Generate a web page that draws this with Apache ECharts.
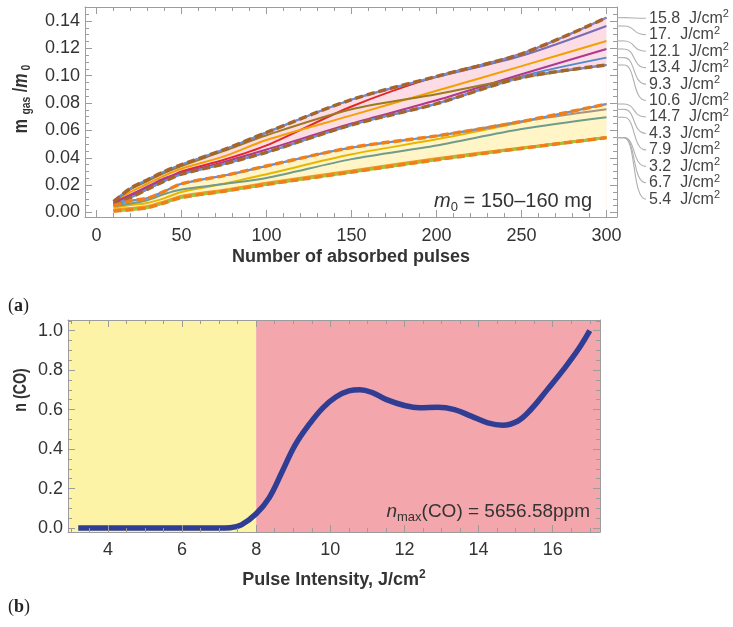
<!DOCTYPE html>
<html>
<head>
<meta charset="utf-8">
<script src="https://cdn.jsdelivr.net/npm/echarts@6/dist/echarts.min.js"></script>
<style>
  html, body { margin: 0; padding: 0; background: #ffffff; }
  #c { width: 733px; height: 627px; }
</style>
</head>
<body>
<div id="c"></div>
<script>
// ---- (a) gas mass fraction vs. number of absorbed pulses ----
const pulses = [10, 20, 30, 40, 50, 75, 100, 150, 200, 250, 300];

// high-yield family (pink band)
const f15_8 = [0.0070, 0.0120, 0.0180, 0.0240, 0.0300, 0.0385, 0.0490, 0.0775, 0.0995, 0.1160, 0.1424];
const f17   = [0.0080, 0.0177, 0.0240, 0.0300, 0.0350, 0.0460, 0.0585, 0.0825, 0.0990, 0.1145, 0.1363];
const f12_1 = [0.0075, 0.0150, 0.0210, 0.0270, 0.0320, 0.0410, 0.0530, 0.0710, 0.0890, 0.1070, 0.1254];
const f13_4 = [0.0070, 0.0130, 0.0190, 0.0250, 0.0290, 0.0370, 0.0460, 0.0650, 0.0820, 0.1010, 0.1195];
const f9_3  = [0.0055, 0.0110, 0.0170, 0.0230, 0.0280, 0.0355, 0.0440, 0.0640, 0.0795, 0.0995, 0.1132];
const f10_6 = [0.0078, 0.0170, 0.0230, 0.0290, 0.0340, 0.0450, 0.0565, 0.0755, 0.0865, 0.0985, 0.1078];

// low-yield family (yellow band)
const f14_7 = [0.0035, 0.0055, 0.0070, 0.0105, 0.0150, 0.0210, 0.0280, 0.0425, 0.0535, 0.0660, 0.0793];
const f4_3  = [0.0050, 0.0085, 0.0105, 0.0155, 0.0210, 0.0270, 0.0340, 0.0475, 0.0560, 0.0665, 0.0754];
const f7_9  = [0.0045, 0.0065, 0.0090, 0.0135, 0.0168, 0.0208, 0.0252, 0.0390, 0.0490, 0.0610, 0.0696];
const f3_2  = [0.0015, 0.0025, 0.0040, 0.0075, 0.0115, 0.0160, 0.0210, 0.0300, 0.0390, 0.0470, 0.0547];
const f6_7  = [0.0020, 0.0030, 0.0045, 0.0080, 0.0120, 0.0165, 0.0215, 0.0305, 0.0395, 0.0472, 0.0547];
const f5_4  = [0.0010, 0.0020, 0.0035, 0.0070, 0.0110, 0.0155, 0.0205, 0.0295, 0.0385, 0.0468, 0.0547];

const upperLabels = ['15.8', '17.', '12.1', '13.4', '9.3', '10.6'];
const lowerLabels = ['14.7', '4.3', '7.9', '3.2', '6.7', '5.4'];
const upperSeries = [f15_8, f17, f12_1, f13_4, f9_3, f10_6];
const lowerSeries = [f14_7, f4_3, f7_9, f3_2, f6_7, f5_4];
const massRange = '150\u2013160 mg';

// ---- (b) CO yield vs. pulse intensity ----
const intensity = [3.2, 4, 5, 6, 7, 7.3, 7.6, 8.0, 8.35, 8.7, 9.05, 9.45, 9.8, 10.15, 10.5, 10.8, 11.15, 11.5, 12.0, 12.4, 12.9, 13.35, 13.8, 14.25, 14.65, 15.05, 15.4, 15.85, 16.3, 16.7, 17];
const nCO       = [0, 0, 0, 0, 0, 0.002, 0.016, 0.072, 0.153, 0.285, 0.42, 0.53, 0.609, 0.664, 0.695, 0.701, 0.685, 0.652, 0.621, 0.609, 0.612, 0.600, 0.567, 0.533, 0.521, 0.541, 0.598, 0.70, 0.805, 0.908, 1.0];
const regimeBoundary = 8;
const nMaxText = '5656.58ppm';

// ---- styling ----
const FONT = '"Liberation Sans", Arial, sans-serif';
const FRAME = '#9c9c9c';
const TXT = '#333333';
const upperColors = ['#e4262c', '#7b6cb6', '#f2a100', '#b0388f', '#4f8bc9', '#9c7a20'];
const lowerColors = ['#e8b600', '#a89480', '#6f9c8b', '#f07e14', '#f39a22', '#9cc23a'];

const X_A = [-6.8, 306.2], Y_A = [-0.0033, 0.1502];
const X_B = [2.924, 17.276], Y_B = [-0.02, 1.054];

const xy = (xs, ys) => xs.map((x, i) => [x, ys[i]]);
const colMax = (arrs) => arrs[0].map((_, i) => Math.max(...arrs.map(a => a[i])));
const colMin = (arrs) => arrs[0].map((_, i) => Math.min(...arrs.map(a => a[i])));

function axisSet(kind, grid, ext, major, minor, labelFmt, margin) {
  const sides = kind === 'x' ? ['bottom', 'top'] : ['left', 'right'];
  const out = [];
  sides.forEach((side, k) => {
    [major, minor].forEach((step, m) => {
      out.push({
        type: 'value', gridIndex: grid, position: side,
        min: ext[0], max: ext[1], minInterval: step, maxInterval: step,
        axisLine: { show: m === 0, onZero: false, lineStyle: { color: FRAME, width: 1 } },
        axisTick: { show: true, inside: true, length: m === 0 ? 7 : 4, lineStyle: { color: FRAME, width: 1 } },
        axisLabel: (k === 0 && m === 0) ? {
          show: true, showMinLabel: false, showMaxLabel: false, margin: margin,
          fontSize: 18, fontFamily: FONT, color: TXT, formatter: labelFmt
        } : { show: false },
        splitLine: { show: false }, minorTick: { show: false },
        z: 10
      });
    });
  });
  return out;
}

const series = [];
const A = { xAxisIndex: 0, yAxisIndex: 0 };
const smoothA = 0.3;

function area(ys, color) {
  series.push(Object.assign({
    type: 'line', data: xy(pulses, ys), smooth: smoothA, symbol: 'none', silent: true,
    lineStyle: { width: 0 }, areaStyle: { color: color, opacity: 1, origin: 'start' }, z: 1
  }, A));
}
const upperMax = colMax(upperSeries), upperMin = colMin(upperSeries);
const lowerMax = colMax(lowerSeries), lowerMin = colMin(lowerSeries);
area(upperMax, '#fcdde6');
area(upperMin, '#ffffff');
area(lowerMax, '#fff5c7');
area(lowerMin, '#ffffff');

function curve(ys, color, width) {
  series.push(Object.assign({
    type: 'line', data: xy(pulses, ys), smooth: smoothA, symbol: 'none', silent: true,
    lineStyle: { color: color, width: width }, z: 3
  }, A));
}
upperSeries.forEach((s, i) => curve(s, upperColors[i], 2));
lowerSeries.forEach((s, i) => curve(s, lowerColors[i], i >= 3 ? 2.6 : 2));

function envelope(ys, under, dash) {
  series.push(Object.assign({
    type: 'line', data: xy(pulses, ys), smooth: smoothA, symbol: 'none', silent: true,
    lineStyle: { color: under, width: 2 }, z: 4
  }, A));
  series.push(Object.assign({
    type: 'line', data: xy(pulses, ys), smooth: smoothA, symbol: 'none', silent: true,
    lineStyle: { color: dash, width: 3.4, type: [8, 4] }, z: 5
  }, A));
}
envelope(upperMax, '#6a8fd6', '#a5652a');
envelope(upperMin, '#6a8fd6', '#a5652a');
envelope(lowerMax, '#6a8fd6', '#f07f1a');
envelope(lowerMin, '#9bc53d', '#f07f1a');

// panel (b)
series.push({
  type: 'line', xAxisIndex: 4, yAxisIndex: 4,
  data: xy(intensity, nCO), smooth: 0.4, symbol: 'none', silent: true,
  lineStyle: { color: '#2f3e94', width: 5.5, cap: 'butt' }, z: 3,
  markArea: {
    silent: true,
    data: [
      [{ xAxis: X_B[0], itemStyle: { color: '#fdf3a7' } }, { xAxis: regimeBoundary }],
      [{ xAxis: regimeBoundary, itemStyle: { color: '#f3a6ab' } }, { xAxis: X_B[1] }]
    ]
  }
});

const option = {
  animation: false,
  backgroundColor: '#ffffff',
  grid: [
    { left: 85, top: 7, width: 532, height: 210, outerBoundsMode: 'none' },
    { left: 68, top: 320, width: 532, height: 212, outerBoundsMode: 'none' }
  ],
  xAxis: [].concat(
    axisSet('x', 0, X_A, 50, 10, v => String(Math.round(v)), 10),
    axisSet('x', 1, X_B, 2, 0.5, v => String(Math.round(v)), 9)
  ),
  yAxis: [].concat(
    axisSet('y', 0, Y_A, 0.02, 0.005, v => v.toFixed(2), 5),
    axisSet('y', 1, Y_B, 0.2, 0.05, v => v.toFixed(1), 5)
  ),
  series: series
};

const chart = echarts.init(document.getElementById('c'));
chart.setOption(option);

// ---- labels, connectors and titles ----
const sub = (size) => ({ fontSize: size, lineHeight: size, verticalAlign: 'bottom', fontFamily: FONT, fill: TXT });
const sup = (size) => ({ fontSize: size, lineHeight: size, verticalAlign: 'top', fontFamily: FONT, fill: TXT });
const graphics = [];

const endLabels = upperLabels.concat(lowerLabels);
const endValues = upperSeries.concat(lowerSeries).map(s => s[s.length - 1]);
const lastPulse = pulses[pulses.length - 1];
const labelTop = 18.3, labelStep = 16.45, labelX = 649;
const frameRight = 85 + 532;
endLabels.forEach((lab, i) => {
  const p = chart.convertToPixel({ xAxisIndex: 0, yAxisIndex: 0 }, [lastPulse, endValues[i]]);
  const y0 = p[1];
  const y1 = labelTop + i * labelStep;
  graphics.push({
    type: 'polyline', silent: true, z: 20,
    shape: { points: [[frameRight, y0], [frameRight + 7, y0]] },
    style: { stroke: '#b0b0b0', lineWidth: 1.1, fill: null }
  });
  graphics.push({
    type: 'bezierCurve', silent: true, z: 20,
    shape: { x1: frameRight + 7, y1: y0, cpx1: frameRight + 19, cpy1: y0, cpx2: frameRight + 15, cpy2: y1, x2: labelX - 3, y2: y1 },
    style: { stroke: '#b0b0b0', lineWidth: 1.1, fill: null }
  });
  graphics.push({
    type: 'text', silent: true, z: 20, x: labelX, y: y1,
    style: {
      text: '{a|' + lab + '  J/cm}{s|2}', align: 'left', verticalAlign: 'middle',
      rich: { a: { fontSize: 16, lineHeight: 19, fontFamily: FONT, fill: '#444' }, s: Object.assign(sup(11), { fill: '#444' }) }
    }
  });
});

// panel (a) annotations
graphics.push({
  type: 'text', silent: true, z: 20, x: 592, y: 201,
  style: {
    text: '{i|m}{s|0}{n| = ' + massRange + '}', align: 'right', verticalAlign: 'middle',
    rich: { i: { fontSize: 20, lineHeight: 25, fontStyle: 'italic', fontFamily: FONT, fill: TXT }, s: sub(13), n: { fontSize: 20, lineHeight: 25, fontFamily: FONT, fill: TXT } }
  }
});
graphics.push({
  type: 'text', silent: true, z: 20, x: 351, y: 257,
  style: { text: 'Number of absorbed pulses', align: 'center', verticalAlign: 'middle', fontSize: 18, fontWeight: 'bold', fontFamily: FONT, fill: TXT }
});
graphics.push({
  type: 'text', silent: true, z: 20, x: 21, y: 99, rotation: Math.PI / 2, scaleX: 0.8,
  style: {
    text: '{b|m }{s|gas}{b| /}{bi|m}{s| 0}', align: 'center', verticalAlign: 'middle',
    rich: {
      b: { fontSize: 20, lineHeight: 24, fontWeight: 'bold', fontFamily: FONT, fill: TXT },
      bi: { fontSize: 20, lineHeight: 24, fontWeight: 'bold', fontStyle: 'italic', fontFamily: FONT, fill: TXT },
      s: Object.assign(sub(13), { fontWeight: 'bold' })
    }
  }
});

// panel (b) annotations
graphics.push({
  type: 'text', silent: true, z: 20, x: 590, y: 512,
  style: {
    text: '{i|n}{s|max}{n|(CO) = ' + nMaxText + '}', align: 'right', verticalAlign: 'middle',
    rich: { i: { fontSize: 19, lineHeight: 24, fontStyle: 'italic', fontFamily: FONT, fill: TXT }, s: sub(13), n: { fontSize: 19, lineHeight: 24, fontFamily: FONT, fill: TXT } }
  }
});
graphics.push({
  type: 'text', silent: true, z: 20, x: 334, y: 580,
  style: {
    text: '{b|Pulse Intensity, J/cm}{s|2}', align: 'center', verticalAlign: 'middle',
    rich: { b: { fontSize: 18, lineHeight: 22, fontWeight: 'bold', fontFamily: FONT, fill: TXT }, s: Object.assign(sup(12), { fontWeight: 'bold' }) }
  }
});
graphics.push({
  type: 'text', silent: true, z: 20, x: 21, y: 390, rotation: Math.PI / 2, scaleX: 0.75,
  style: { text: 'n (CO)', align: 'center', verticalAlign: 'middle', fontSize: 19, fontWeight: 'bold', fontFamily: FONT, fill: TXT }
});

// panel tags
[['a', 306], ['b', 607]].forEach(([t, y]) => {
  graphics.push({
    type: 'text', silent: true, z: 20, x: 8, y: y,
    style: {
      text: '{p|(}{t|' + t + '}{p|)}', align: 'left', verticalAlign: 'middle',
      rich: {
        p: { fontSize: 18, lineHeight: 22, fontFamily: '"Liberation Serif", serif', fill: '#222' },
        t: { fontSize: 18, lineHeight: 22, fontWeight: 'bold', fontFamily: '"Liberation Serif", serif', fill: '#222' }
      }
    }
  });
});

chart.setOption({ graphic: { elements: graphics } });
</script>
</body>
</html>
